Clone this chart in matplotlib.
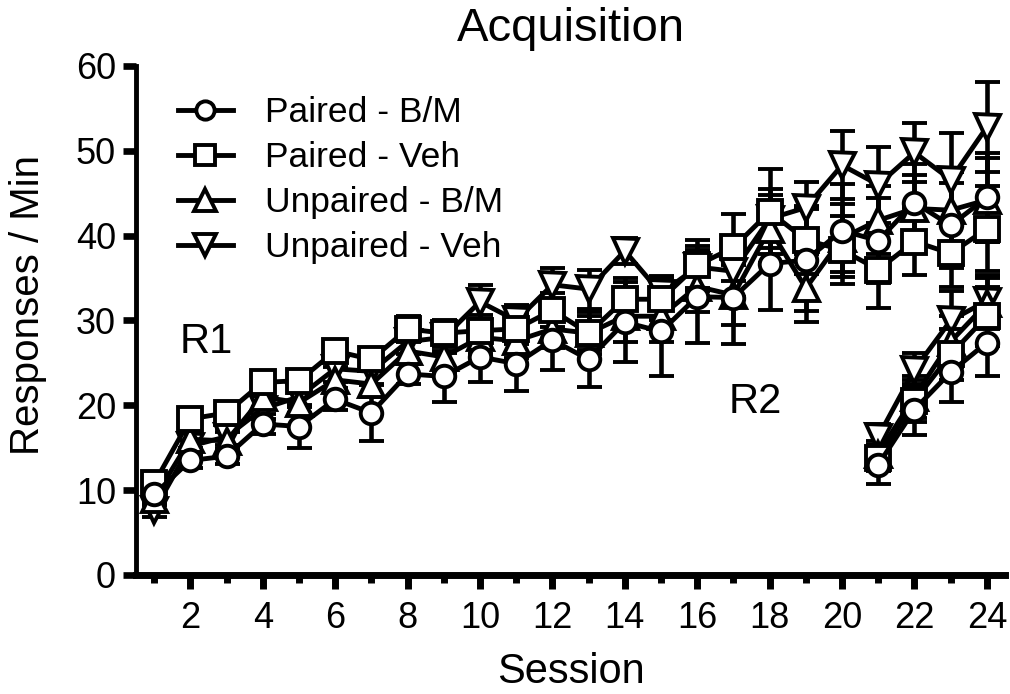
import matplotlib
matplotlib.use('Agg')
import matplotlib.pyplot as pl
import numpy as np

pl.rcParams['font.family'] = ['Liberation Sans', 'DejaVu Sans']

# ---------------------------------------------------[ data ]---------------------------------------------------
sessions_r1 = np.arange(1, 25)
sessions_r2 = np.arange(21, 25)

labels = ['Paired - B/M', 'Paired - Veh', 'Unpaired - B/M', 'Unpaired - Veh']

# R1 means / SEM (sessions 1-24)
paired_bm = [9.5, 13.5, 14.0, 17.8, 17.5, 20.7, 19.1, 23.7, 23.4, 25.7, 24.9, 27.7,
             25.4, 29.8, 28.7, 32.8, 32.7, 36.7, 37.1, 40.6, 39.4, 43.9, 41.2, 44.5]
paired_bm_sem = [1.0, 0.9, 0.9, 1.2, 2.5, 1.3, 3.3, 1.2, 3.0, 3.0, 3.2, 3.5,
                 3.2, 4.7, 5.2, 5.5, 5.5, 5.5, 6.0, 5.5, 5.0, 4.5, 5.0, 5.2]
paired_veh = [10.8, 18.4, 19.1, 22.7, 22.9, 26.4, 25.4, 29.0, 28.5, 28.8, 29.0, 31.2,
              28.5, 32.5, 32.5, 36.5, 38.6, 42.8, 39.5, 38.3, 36.0, 39.3, 37.9, 40.8]
paired_veh_sem = [0.8, 0.8, 0.8, 1.0, 1.0, 1.0, 1.2, 1.5, 1.6, 1.8, 1.8, 2.0,
                  2.0, 2.5, 2.5, 3.0, 4.0, 5.0, 4.0, 4.0, 4.5, 4.0, 4.0, 5.0]
unpaired_bm = [9.0, 16.0, 15.8, 21.0, 20.3, 23.0, 22.5, 26.4, 25.7, 28.0, 27.6, 29.0,
               28.5, 30.5, 30.5, 34.0, 33.0, 40.8, 33.8, 39.7, 41.8, 43.2, 43.0, 44.2]
unpaired_bm_sem = [0.8, 1.0, 1.0, 1.2, 1.2, 1.5, 1.5, 1.5, 1.8, 2.0, 2.0, 2.2,
                   2.5, 3.0, 3.0, 3.0, 3.5, 4.0, 4.0, 4.0, 4.0, 4.0, 4.5, 5.0]
unpaired_veh = [7.6, 15.2, 16.3, 19.6, 21.0, 24.3, 24.0, 27.5, 28.0, 32.2, 30.0, 34.2,
                33.7, 38.2, 33.2, 36.3, 35.8, 42.0, 43.3, 48.3, 46.0, 49.8, 46.6, 52.8]
unpaired_veh_sem = [0.8, 1.0, 1.0, 1.2, 1.2, 1.5, 1.5, 1.5, 1.8, 2.0, 1.8, 2.0,
                    2.3, 1.5, 2.0, 2.5, 3.0, 3.5, 3.0, 4.0, 4.5, 3.5, 5.5, 5.3]

# R2 means / SEM (sessions 21-24)
paired_bm_r2 = [13.0, 19.5, 23.9, 27.4]
paired_bm_r2_sem = [2.3, 3.0, 3.5, 4.0]
paired_veh_r2 = [13.8, 20.5, 26.0, 30.5]
paired_veh_r2_sem = [1.5, 2.5, 3.0, 3.5]
unpaired_bm_r2 = [14.3, 21.0, 27.5, 32.0]
unpaired_bm_r2_sem = [1.5, 2.5, 3.0, 3.0]
unpaired_veh_r2 = [16.3, 24.2, 30.0, 32.3]
unpaired_veh_r2_sem = [1.5, 2.0, 3.5, 3.0]

# -------------------------------------------------[ plotting ]-------------------------------------------------
fig = pl.figure(figsize=(10.1, 6.94), dpi=100)
ax = fig.add_axes([0.1347, 0.1715, 0.8603, 0.7335])

groups = [  # drawn bottom to top
    ('v', 18, labels[3], unpaired_veh, unpaired_veh_sem, unpaired_veh_r2, unpaired_veh_r2_sem),
    ('^', 18, labels[2], unpaired_bm, unpaired_bm_sem, unpaired_bm_r2, unpaired_bm_r2_sem),
    ('s', 17.5, labels[1], paired_veh, paired_veh_sem, paired_veh_r2, paired_veh_r2_sem),
    ('o', 15.5, labels[0], paired_bm, paired_bm_sem, paired_bm_r2, paired_bm_r2_sem),
]

handles = {}
for mk, ms, lab, y1, e1, y2, e2 in groups:
    style = dict(fmt=mk + '-', color='black', mfc='white', mec='black', ms=ms, mew=2.8,
                 lw=3.5, elinewidth=3.3, capsize=9, capthick=3.6)
    c = ax.errorbar(sessions_r1, y1, yerr=e1, **style)
    ax.errorbar(sessions_r2, y2, yerr=e2, **style)
    handles[lab] = c[0]

leg = ax.legend([handles[l] for l in labels], labels, loc='upper left',
                bbox_to_anchor=(178 / 1010, 1 - 96 / 694), bbox_transform=fig.transFigure,
                frameon=False, fontsize=25.5, handlelength=1.55, handletextpad=0.9,
                labelspacing=0.34, markerscale=0.85, borderpad=0, borderaxespad=0)

ax.text(2.44, 27.5, 'R1', fontsize=30, ha='center', va='center')
ax.text(17.6, 20.4, 'R2', fontsize=30, ha='center', va='center')

ax.set_xlim(0.5, 24.5)
ax.set_ylim(0, 60)
ax.set_xticks(np.arange(2, 25, 2))
ax.set_xticks(np.arange(1, 24, 2), minor=True)
ax.set_yticks(np.arange(0, 61, 10))

for s in ['top', 'right']:
    ax.spines[s].set_visible(False)
ax.spines['bottom'].set_linewidth(5)
ax.spines['left'].set_linewidth(3.5)

ax.tick_params(axis='x', which='major', length=10, width=5, labelsize=26, pad=9)
ax.tick_params(axis='x', which='minor', length=6, width=5)
ax.tick_params(axis='y', which='major', length=9.5, width=4.8, labelsize=26, pad=5)

ax.set_title('Acquisition', fontsize=34, pad=18)
ax.set_xlabel('Session', fontsize=30)
ax.set_ylabel('Responses / Min', fontsize=29)
ax.xaxis.set_label_coords(0.5, -0.151)
ax.yaxis.set_label_coords(-0.102, 0.53)

fig.savefig('out.png', dpi=100)
